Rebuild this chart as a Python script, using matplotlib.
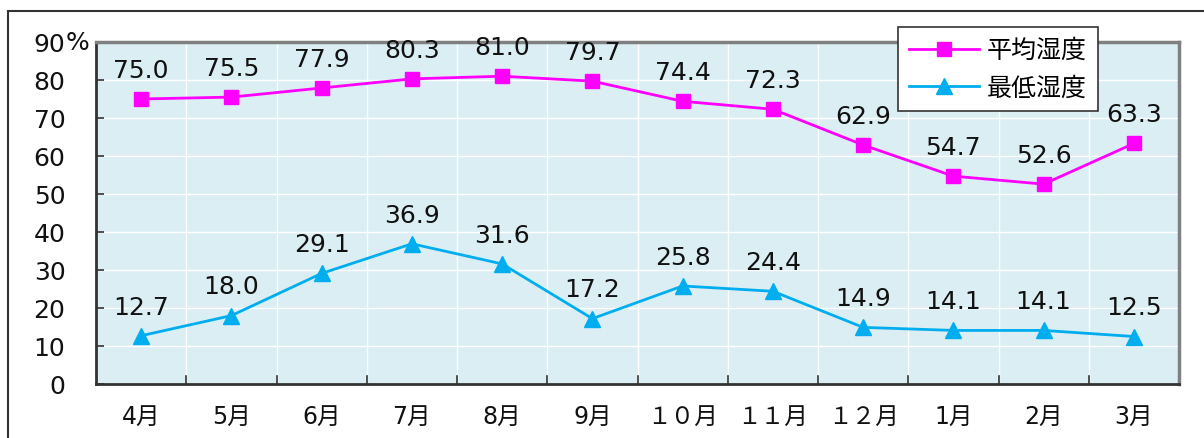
import matplotlib.pyplot as plt
from matplotlib.patches import Rectangle

plt.rcParams['font.family'] = ['DejaVu Sans', 'Noto Sans CJK JP']

months = ['4月', '5月', '6月', '7月', '8月', '9月', '１０月', '１１月', '１２月', '1月', '2月', '3月']
avg_hum = [75.0, 75.5, 77.9, 80.3, 81.0, 79.7, 74.4, 72.3, 62.9, 54.7, 52.6, 63.3]
min_hum = [12.7, 18.0, 29.1, 36.9, 31.6, 17.2, 25.8, 24.4, 14.9, 14.1, 14.1, 12.5]
yticks = [0, 10, 20, 30, 40, 50, 60, 70, 80, 90]

pink = '#ff00ff'
blue = '#00aeef'
txt = '#111111'

fig = plt.figure(figsize=(12.04, 4.39), dpi=100)
# outer frame (only left and top visible in the crop)
fig.add_artist(Rectangle((8 / 1204, -0.1), 1.2, (439 - 12) / 439 + 0.1,
                         transform=fig.transFigure, fill=False,
                         edgecolor='#333333', linewidth=1.5))

ax = fig.add_axes([96 / 1204, 1 - 385 / 439, (1179 - 96) / 1204, (385 - 43) / 439])
ax.set_facecolor('#dbeef4')

x = list(range(len(months)))
ax.plot(x, avg_hum, color=pink, marker='s', markersize=10, linewidth=2,
        label='平均湿度', zorder=3)
ax.plot(x, min_hum, color=blue, marker='^', markersize=11, linewidth=2,
        label='最低湿度', zorder=3)

for series in (avg_hum, min_hum):
    for xi, v in zip(x, series):
        ax.annotate(f'{v:.1f}', (xi, v), xytext=(0, 21), textcoords='offset points',
                    ha='center', va='center', fontsize=18, color=txt)

ax.set_xlim(-0.5, len(months) - 0.5)
ax.set_ylim(0, 90)
ax.set_yticks(yticks)
ax.set_yticklabels([str(v) for v in yticks], fontsize=18, color=txt)
ax.set_xticks(x)
ax.set_xticklabels(months, fontsize=17, color=txt)
ax.tick_params(axis='x', length=0, pad=14)
ax.tick_params(axis='y', direction='in', length=6, width=1.2, pad=22, color='#333333')
fig.text(66 / 1204, 1 - 43 / 439, '%', fontsize=18, color=txt, ha='left', va='center')

# category boundaries: white grid + inward ticks at bottom
for b in [i + 0.5 for i in range(len(months) - 1)]:
    ax.axvline(b, color='white', linewidth=1, zorder=1)
    ax.plot([b, b], [0, 2], color='#333333', linewidth=1.2, zorder=2, clip_on=False)
for yv in yticks[1:-1]:
    ax.axhline(yv, color='white', linewidth=1, zorder=1)

for side in ['left', 'bottom']:
    ax.spines[side].set_color('#333333')
    ax.spines[side].set_linewidth(2)
for side in ['top', 'right']:
    ax.spines[side].set_color('#808080')
    ax.spines[side].set_linewidth(2.5)

leg = ax.legend(loc='upper left', bbox_to_anchor=(802 / 1083, 1 + 15 / 342),
                borderaxespad=0, fontsize=18, frameon=True, fancybox=False,
                handlelength=2.8, borderpad=0.45, labelspacing=0.55,
                handletextpad=0.3)
leg.get_frame().set_edgecolor('#333333')
leg.get_frame().set_linewidth(1.2)
leg.get_frame().set_facecolor('white')
leg.get_frame().set_alpha(1)
leg.set_zorder(5)

fig.savefig('out.png', dpi=100)
